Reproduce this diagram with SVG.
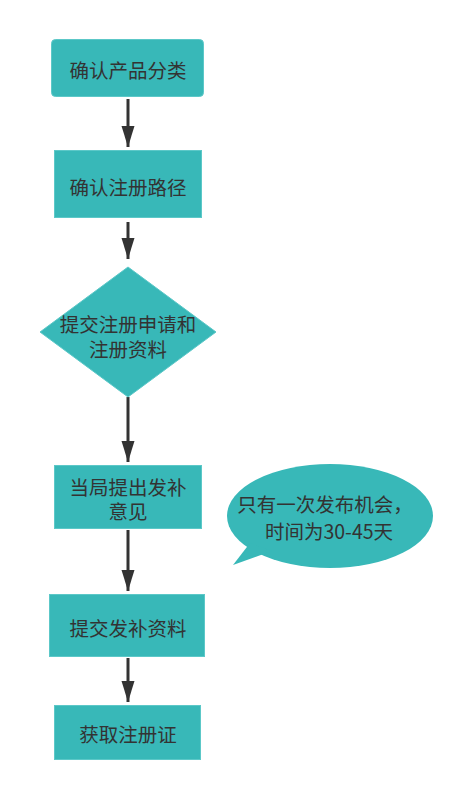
<svg xmlns="http://www.w3.org/2000/svg" width="470" height="798" viewBox="0 0 470 798">
<style>
.node{fill:#38b8b8;stroke:#5cc8c8;stroke-width:1}
.t{font-family:"Noto Sans CJK SC","Noto Sans",sans-serif;font-size:19.5px;fill:#333333;text-anchor:middle;dominant-baseline:central}
.c{stroke:#333333;stroke-width:3;fill:none}
</style>
<defs>
<marker id="ah" markerUnits="userSpaceOnUse" markerWidth="22" markerHeight="16" viewBox="0 -8 22 16" refX="21" refY="0" orient="auto">
<path d="M0,-6.5 L21,0 L0,6.5 Z" fill="#333333"/>
</marker>
</defs>
<rect width="470" height="798" fill="#ffffff"/>
<g id="connectors">
<line class="c" x1="128" y1="99" x2="128" y2="147" marker-end="url(#ah)"/>
<line class="c" x1="128" y1="222" x2="128" y2="259" marker-end="url(#ah)"/>
<line class="c" x1="128" y1="397" x2="128" y2="462" marker-end="url(#ah)"/>
<line class="c" x1="128" y1="530" x2="128" y2="591" marker-end="url(#ah)"/>
<line class="c" x1="128" y1="658" x2="128" y2="702" marker-end="url(#ah)"/>
</g>
<g id="n1">
<rect class="node" x="51.5" y="39.5" width="152" height="57" rx="4"/>
<text class="t" x="128" y="69">确认产品分类</text>
</g>
<g id="n2">
<rect class="node" x="54.5" y="150.5" width="147" height="67"/>
<text class="t" x="128" y="186">确认注册路径</text>
</g>
<g id="n3">
<polygon class="node" points="128,267 216,332 128,397 40,332"/>
<text class="t" x="128" y="323">提交注册申请和</text>
<text class="t" x="128" y="348">注册资料</text>
</g>
<g id="n4">
<rect class="node" x="54.5" y="465.5" width="147" height="63"/>
<text class="t" x="128" y="486">当局提出发补</text>
<text class="t" x="128" y="510">意见</text>
</g>
<g id="n5">
<rect class="node" x="49.5" y="594.5" width="155" height="62"/>
<text class="t" x="128" y="627">提交发补资料</text>
</g>
<g id="n6">
<rect class="node" x="54.5" y="705.5" width="146" height="54"/>
<text class="t" x="128" y="733">获取注册证</text>
</g>
<g id="note">
<ellipse cx="330" cy="516" rx="103" ry="52" fill="#38b8b8"/>
<polygon points="250,543 233,565 272,551" fill="#38b8b8"/>
<text class="t" x="325" y="503">只有一次发布机会，</text>
<text class="t" x="329" y="530">时间为30-45天</text>
</g>
</svg>
